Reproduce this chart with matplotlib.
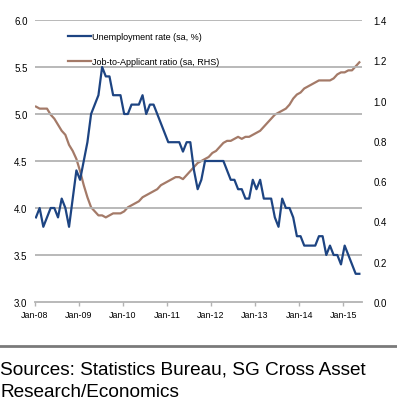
import numpy as np
import matplotlib
matplotlib.use("Agg")
import matplotlib.pyplot as plt
from matplotlib.ticker import FormatStrFormatter

plt.rcParams['font.family'] = ['Liberation Sans', 'DejaVu Sans']

# monthly data, Jan-08 .. May-15
unemployment = [
    3.9, 4.0, 3.8, 3.9, 4.0, 4.0, 3.9, 4.1, 4.0, 3.8, 4.1, 4.4,   # 2008
    4.3, 4.5, 4.7, 5.0, 5.1, 5.2, 5.5, 5.4, 5.4, 5.2, 5.2, 5.2,   # 2009
    5.0, 5.0, 5.1, 5.1, 5.1, 5.2, 5.0, 5.1, 5.1, 5.0, 4.9, 4.8,   # 2010
    4.7, 4.7, 4.7, 4.7, 4.6, 4.7, 4.7, 4.4, 4.2, 4.3, 4.5, 4.5,   # 2011
    4.5, 4.5, 4.5, 4.5, 4.4, 4.3, 4.3, 4.2, 4.2, 4.1, 4.1, 4.3,   # 2012
    4.2, 4.3, 4.1, 4.1, 4.1, 3.9, 3.8, 4.1, 4.0, 4.0, 3.9, 3.7,   # 2013
    3.7, 3.6, 3.6, 3.6, 3.6, 3.7, 3.7, 3.5, 3.6, 3.5, 3.5, 3.4,   # 2014
    3.6, 3.5, 3.4, 3.3, 3.3,                                      # 2015
]
job_ratio = [
    0.97, 0.96, 0.96, 0.96, 0.93, 0.91, 0.88, 0.85, 0.83, 0.78, 0.75, 0.71,
    0.65, 0.58, 0.52, 0.47, 0.45, 0.43, 0.43, 0.42, 0.43, 0.44, 0.44, 0.44,
    0.45, 0.47, 0.48, 0.49, 0.50, 0.52, 0.53, 0.54, 0.55, 0.56, 0.58, 0.59,
    0.60, 0.61, 0.62, 0.62, 0.61, 0.63, 0.65, 0.67, 0.69, 0.70, 0.71, 0.72,
    0.74, 0.75, 0.77, 0.79, 0.80, 0.80, 0.81, 0.82, 0.81, 0.82, 0.82, 0.83,
    0.84, 0.85, 0.87, 0.89, 0.91, 0.93, 0.94, 0.95, 0.96, 0.98, 1.01, 1.03,
    1.04, 1.06, 1.07, 1.08, 1.09, 1.10, 1.10, 1.10, 1.10, 1.11, 1.13, 1.14,
    1.14, 1.15, 1.15, 1.17, 1.19,
]
tick_labels = ["Jan-08", "Jan-09", "Jan-10", "Jan-11", "Jan-12", "Jan-13", "Jan-14", "Jan-15"]

blue = "#1d4482"
brown = "#a47a68"
grid_col = "#b3b3b3"

months = np.arange(len(unemployment)) + 0.4

fig = plt.figure(figsize=(3.97, 4.02), dpi=100)
ax = fig.add_axes([34.5 / 397, 1 - 303 / 402, (362.3 - 34.5) / 397, 282 / 402])
ax2 = ax.twinx()

l1, = ax.plot(months, unemployment, color=blue, lw=1.6, zorder=3,
              label="Unemployment rate (sa, %)")
l2, = ax2.plot(months, job_ratio, color=brown, lw=1.6, zorder=2,
               label="Job-to-Applicant ratio (sa, RHS)")

ax.set_zorder(ax2.get_zorder() + 1)
ax.patch.set_visible(False)

ax.set_xlim(0, 89.2)
ax.set_ylim(3.0, 6.0)
ax2.set_ylim(0.0, 1.4)
ax.set_yticks(np.arange(3.0, 6.01, 0.5))
ax2.set_yticks(np.arange(0.0, 1.41, 0.2))
ax.yaxis.set_major_formatter(FormatStrFormatter("%.1f"))
ax2.yaxis.set_major_formatter(FormatStrFormatter("%.1f"))
ax.set_xticks(np.arange(0, 85, 12))
ax.set_xticklabels(tick_labels)

for y in np.arange(3.5, 6.01, 0.5):
    ax.axhline(y, color=grid_col, lw=1.3, zorder=0)

for a in (ax, ax2):
    for s in a.spines.values():
        s.set_visible(False)
ax.spines["bottom"].set_visible(True)
ax.spines["bottom"].set_color(grid_col)
ax.spines["bottom"].set_linewidth(1.3)

ax.tick_params(axis="x", direction="out", length=3, width=1, color=grid_col,
               labelsize=6.4, pad=3)
ax.tick_params(axis="y", length=0, labelsize=7, pad=5)
ax2.tick_params(axis="y", length=0, labelsize=7, pad=8)

ax.legend(handles=[l1, l2], loc="upper left", bbox_to_anchor=(0.09, 0.97),
          frameon=False, fontsize=6.5, handlelength=2.6, handletextpad=0.1,
          labelspacing=1.8, borderaxespad=0)

fig.add_artist(plt.Line2D([0, 1], [1 - 347 / 402] * 2, color="#7a7a7a", lw=2,
                          transform=fig.transFigure))
fig.text(0.0, 1 - 370 / 402, "Sources: Statistics Bureau, SG Cross Asset",
         fontsize=13.7, va="center", ha="left")
fig.text(0.0, 1 - 393 / 402, "Research/Economics",
         fontsize=13.7, va="center", ha="left")

fig.savefig("out.png", dpi=100)
